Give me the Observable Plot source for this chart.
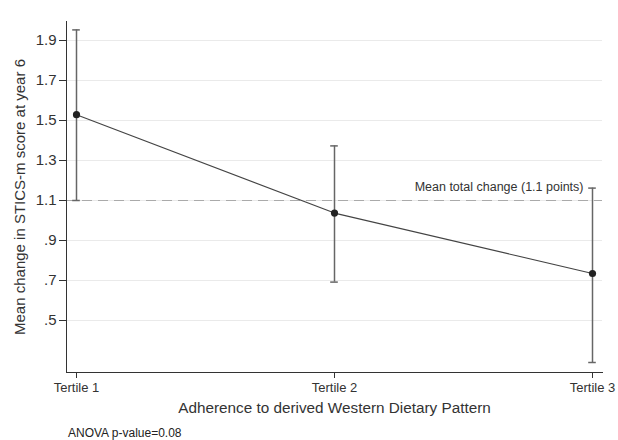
<!DOCTYPE html>
<html><head><meta charset="utf-8">
<script src="https://cdn.jsdelivr.net/npm/d3@7"></script>
<script src="https://cdn.jsdelivr.net/npm/@observablehq/plot@0.6"></script>
<style>
body{margin:0;background:#fff;font-family:"Liberation Sans",Arial,sans-serif;}
#cap{font-size:12px;color:#222;padding-left:68px;padding-top:6px;line-height:14px;}
</style></head><body>
<div id="chart"></div>
<div id="cap">ANOVA p-value=0.08</div>
<script>
const tertiles = ["Tertile 1", "Tertile 2", "Tertile 3"];
const means = [1.529, 1.037, 0.735];
const lowers = [1.10, 0.692, 0.29];
const uppers = [1.953, 1.373, 1.162];
const yTicks = [0.5, 0.7, 0.9, 1.1, 1.3, 1.5, 1.7, 1.9];
const yTickLabels = [".5", ".7", ".9", "1.1", "1.3", "1.5", "1.7", "1.9"];
const meanTotal = 1.1;
const meanTotalLabel = "Mean total change (1.1 points)";

const data = tertiles.map((t, i) => ({t, m: means[i], lo: lowers[i], hi: uppers[i]}));

const chart = Plot.plot({
  width: 618, height: 420,
  marginLeft: 66, marginRight: 16, marginTop: 21, marginBottom: 48,
  style: {fontFamily: "Liberation Sans, Arial, sans-serif", fontSize: "13px", color: "#333"},
  x: {type: "band", domain: tertiles, paddingInner: 0.96, paddingOuter: 0.01875, align: 0.5, label: null},
  y: {domain: [0.24, 1.995], label: null},
  marks: [
    Plot.ruleY(yTicks, {stroke: "#eaeaea", strokeWidth: 1}),
    Plot.ruleY([meanTotal], {stroke: "#aaa", strokeWidth: 1.2, strokeDasharray: "10,6"}),
    Plot.text([meanTotalLabel], {x: () => tertiles[2], y: () => meanTotal, text: d => d, textAnchor: "end", dx: -9, dy: -14, fontSize: 12.5, fill: "#333"}),
    Plot.ruleX(data, {x: "t", y1: "lo", y2: "hi", stroke: "#666", strokeWidth: 1.5}),
    Plot.tickY(data, {x: "t", y: "lo", insetLeft: 1.2, insetRight: 1.2, stroke: "#666", strokeWidth: 1.5}),
    Plot.tickY(data, {x: "t", y: "hi", insetLeft: 1.2, insetRight: 1.2, stroke: "#666", strokeWidth: 1.5}),
    Plot.line(data, {x: "t", y: "m", stroke: "#444", strokeWidth: 1.1}),
    Plot.dot(data, {x: "t", y: "m", r: 3.6, fill: "#222", stroke: "none"}),
    Plot.axisY(yTicks, {tickSize: 7, tickPadding: 3, fontSize: 15, stroke: "#333",
      tickFormat: v => yTickLabels[yTicks.indexOf(v)], label: null}),
    Plot.axisY({ticks: [], label: "Mean change in STICS-m score at year 6", labelAnchor: "center", labelArrow: "none", labelOffset: 52, fontSize: 15}),
    Plot.axisX(tertiles, {tickSize: 6, tickPadding: 4, fontSize: 13, stroke: "#333", label: null}),
    Plot.axisX({ticks: [], label: "Adherence to derived Western Dietary Pattern", labelAnchor: "center", labelArrow: "none", labelOffset: 40, fontSize: 15.3}),
    Plot.frame({anchor: "left", stroke: "#333"}),
    Plot.frame({anchor: "bottom", stroke: "#333"})
  ]
});
document.getElementById("chart").appendChild(chart);
</script>
</body></html>
